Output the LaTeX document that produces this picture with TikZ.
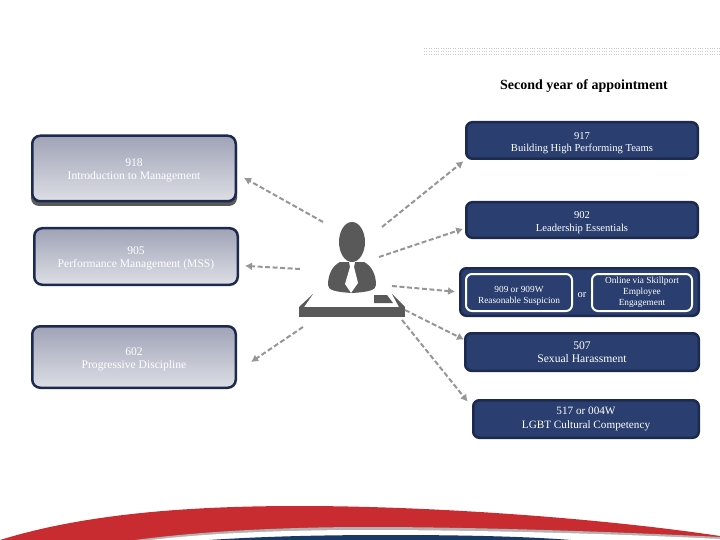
\documentclass[tikz,border=0pt]{standalone}
\usepackage{fontspec}
\setmainfont{Liberation Serif}
\usetikzlibrary{arrows.meta}
\definecolor{navyfill}{HTML}{2A3F6F}
\definecolor{navyline}{HTML}{1C2A4F}
\definecolor{figgray}{HTML}{595959}
\definecolor{swred}{HTML}{C92C30}
\definecolor{swnavy}{HTML}{1B3A63}
\definecolor{paletop}{HTML}{9FA3B6}
\definecolor{palebot}{HTML}{DDDEE5}
\definecolor{linkgray}{HTML}{969696}
\newcommand{\lft}{\rule{0pt}{12pt}}
\tikzset{
  paleb/.style={draw=navyline, line width=2.5pt, rounded corners=8pt, top color=paletop, bottom color=palebot, text=white, align=center, inner sep=0pt, font=\fontsize{11.6}{13}\selectfont},
  darkb/.style={draw=navyline, line width=2.5pt, rounded corners=6pt, fill=navyfill, text=white, align=center, inner sep=0pt, font=\fontsize{10.6}{12.5}\selectfont},
  innerb/.style={draw=white, line width=2pt, rounded corners=6pt, fill=navyfill, text=white, align=center, inner sep=0pt, font=\fontsize{9.3}{11}\selectfont},
  link/.style={draw=linkgray, line width=2pt, dash pattern=on 5pt off 2.5pt, -{Latex[length=7pt,width=8pt]}},
}
\begin{document}
\begin{tikzpicture}[x=1pt,y=-1pt]
\useasboundingbox (0,0) rectangle (720,540);
% bottom band
\fill[swred] (0,540) .. controls (90,512) and (200,506) .. (300,506) .. controls (430,506) and (600,518) .. (720,536) -- (720,540) -- cycle;
\fill[gray!60] (135,540) .. controls (210,530) and (300,527) .. (367,527) .. controls (480,527) and (620,532) .. (720,537) -- (720,540) -- cycle;
\fill[white] (150,540) .. controls (220,532) and (300,530) .. (367,530) .. controls (480,530) and (620,534) .. (720,539) -- (720,540) -- cycle;
\fill[swnavy] (209,540) .. controls (270,536) and (330,535) .. (390,535) .. controls (450,535) and (520,536) .. (571,540) -- cycle;
% top rule
\draw[gray!40, dotted] (424,48) -- (720,48);
\draw[gray!40, dotted] (424,51) -- (720,51);
\draw[gray!40, dotted] (424,54) -- (720,54);
\node[font=\bfseries\fontsize{14}{16}\selectfont] (title) at (584,86){Second year of appointment};
% left column
\node[fill=figgray, rounded corners=8pt, minimum width=206pt, minimum height=68pt] (crs918s) at (134,172){};
\node[paleb, minimum width=203.5pt, minimum height=65.5pt] (crs918) at (134,168.5){\lft 918\\Introduction to Management};
\node[paleb, minimum width=203.5pt, minimum height=56.5pt] (crs905) at (136,256.5){\lft 905\\Performance Management (MSS)};
\node[paleb, minimum width=203.5pt, minimum height=61.5pt] (crs602) at (134,357){\lft 602\\Progressive Discipline};
% right column
\node[darkb, minimum width=231.5pt, minimum height=36.5pt] (crs917) at (582,140.5){\lft 917\\Building High Performing Teams};
\node[darkb, minimum width=231.5pt, minimum height=35.5pt] (crs902) at (582,220){\lft 902\\Leadership Essentials};
\node[darkb, minimum width=238.5pt, minimum height=47.5pt] (crs909) at (579.5,292){};
\node[innerb, minimum width=106pt, minimum height=37pt] (opt909) at (519,292.5){\lft 909 or 909W\\Reasonable Suspicion};
\node[innerb, minimum width=100pt, minimum height=37pt] (optweb) at (642,292.5){Online via Skillport\\Employee\\Engagement};
\node[text=white, font=\fontsize{10.5}{12}\selectfont] (optor) at (582,295){or};
\node[darkb, font=\fontsize{11.6}{13}\selectfont, minimum width=233.5pt, minimum height=37.5pt] (crs507) at (582,352){507\\Sexual Harassment};
\node[darkb, font=\fontsize{11.2}{14}\selectfont, minimum width=225.5pt, minimum height=37.5pt] (crs517) at (586,419){517 or 004W\\LGBT Cultural Competency};
% person at desk
\fill[figgray] (352,242) ellipse [x radius=13, y radius=20];
\fill[figgray] (340,262) .. controls (332,266) and (328,275) .. (328,285) .. controls (328,290) and (335,292) .. (352,293) .. controls (369,292) and (376,290) .. (376,285) .. controls (376,275) and (372,266) .. (364,262) -- cycle;
\fill[white] (349,262) -- (355,262) -- (354,267) -- (358,283) -- (351,293) -- (345,284) -- (350,267) -- cycle;
\fill[figgray] (299,307) rectangle (405,317);
\fill[figgray] (299,307) -- (313,294) -- (304,307) -- cycle;
\fill[figgray] (392,294) -- (405,307) -- (399,307) -- cycle;
\fill[figgray] (374,295) -- (387,295) -- (393,303) -- (374,303) -- cycle;
% free ends
\coordinate (from918) at (323,222);
\coordinate (from905) at (300,269);
\coordinate (from602) at (303,327);
\coordinate (from917) at (382,227);
\coordinate (from902) at (379,257);
\coordinate (from909) at (392,286);
\coordinate (from507) at (405,310);
\coordinate (from517) at (402,320);
\draw[link, shorten >=8pt] (from918) -- (crs918.-3);
\draw[link, shorten >=6pt] (from905) -- (crs905.-5);
\draw[link, shorten >=17pt] (from602) -- (crs602.-8);
\draw[link, shorten >=2pt] (from917) -- (crs917.south west);
\draw[link, shorten >=2pt] (from902) -- (crs902.184);
\draw[link, shorten >=4pt] (from909) -- (crs909.west);
\draw[link] (from507) -- (crs507.174);
\draw[link, shorten >=7pt] (from517) -- (crs517.174);
\end{tikzpicture}
\end{document}
